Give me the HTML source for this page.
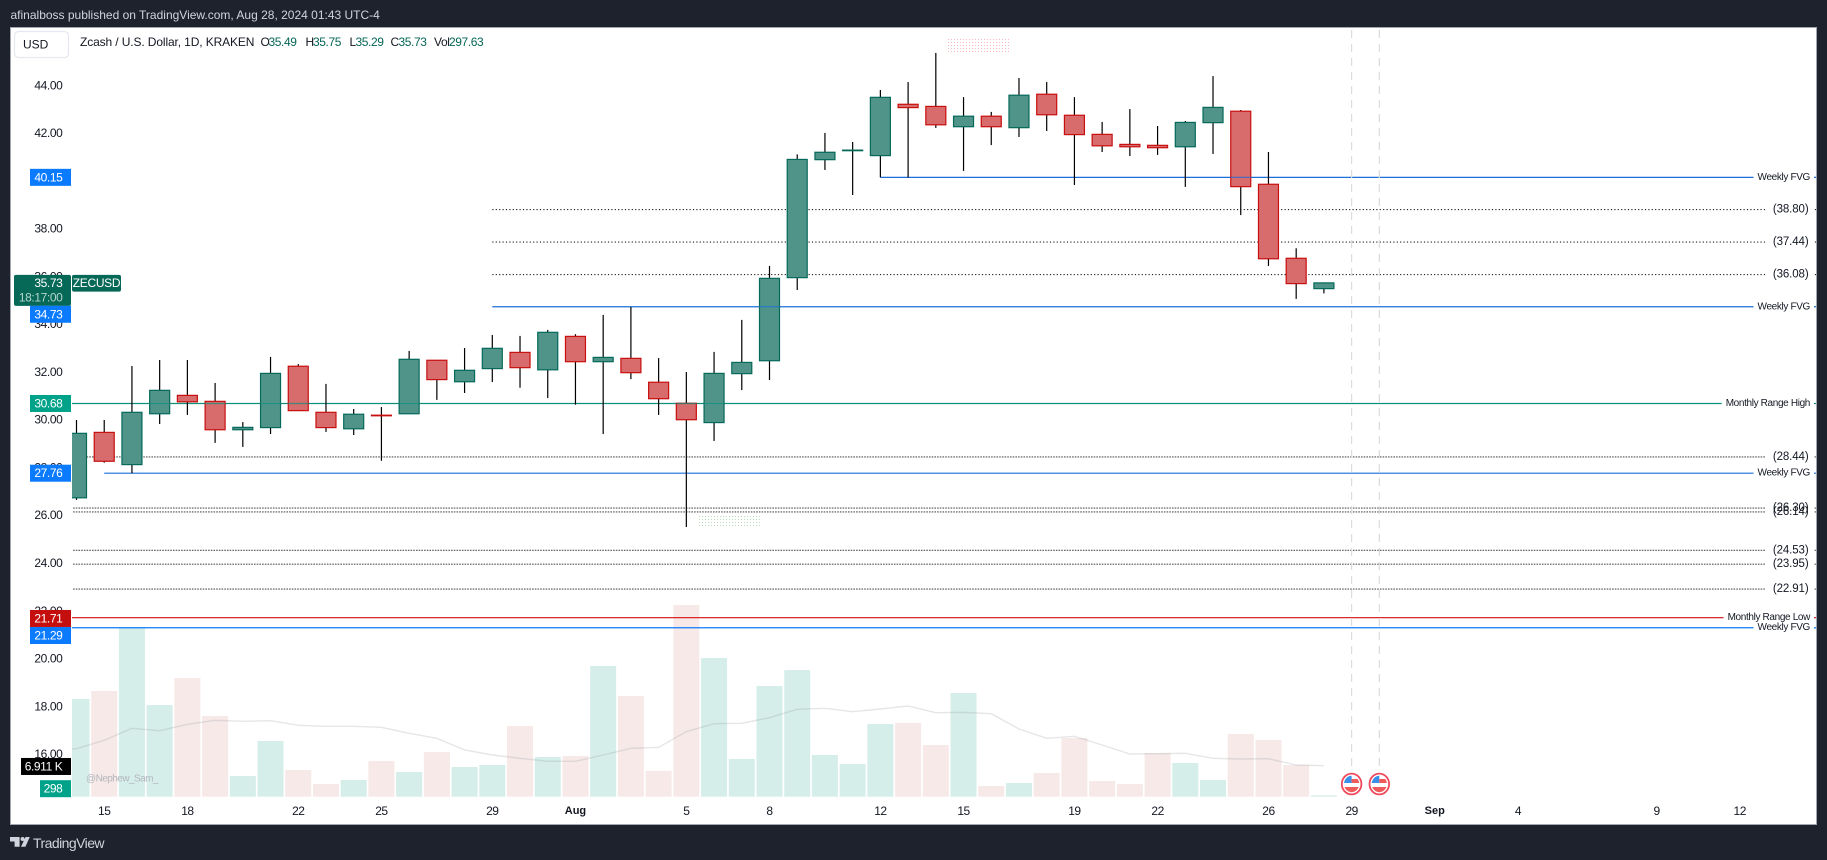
<!DOCTYPE html>
<html lang="en">
<head>
<meta charset="utf-8">
<title>Zcash / U.S. Dollar chart</title>
<style>
html,body{margin:0;padding:0;background:#1e222d;width:1827px;height:860px;overflow:hidden}
svg{display:block;font-family:"Liberation Sans",sans-serif}
text{white-space:pre}
</style>
</head>
<body>
<svg id="chart" xmlns="http://www.w3.org/2000/svg" width="1827" height="860" viewBox="0 0 1827 860">
  <defs>
    <clipPath id="plot-clip"><rect x="72" y="28" width="1744" height="796"/></clipPath>
    <clipPath id="flag-clip-a"><ellipse cx="1351.6" cy="784" rx="7.6" ry="8.2"/></clipPath>
    <clipPath id="flag-clip-b"><ellipse cx="1379.3" cy="784" rx="7.6" ry="8.2"/></clipPath>
    <pattern id="dots-pink" width="3" height="3" patternUnits="userSpaceOnUse"><rect width="1" height="1" fill="#ffb9c0"/></pattern>
    <pattern id="dots-green" width="3" height="3" patternUnits="userSpaceOnUse"><rect width="1" height="1" fill="#b5dcbc"/></pattern>
  </defs>
  <rect x="0" y="0" width="1827" height="860" fill="#1e222d"/>
  <text x="10.5" y="15" dominant-baseline="central" font-size="12" fill="#d1d4dc">afinalboss published on TradingView.com, Aug 28, 2024 01:43 UTC-4</text>
  <rect x="10.5" y="27.5" width="1806" height="797" fill="#ffffff" stroke="#a3a6af" stroke-width="1"/>
  <g id="volume-layer" clip-path="url(#plot-clip)"></g>
  <g id="level-layer" clip-path="url(#plot-clip)"></g>
  <g id="event-layer"></g>
  <g id="candle-layer" clip-path="url(#plot-clip)"></g>
  <rect x="947.5" y="39" width="62" height="15" fill="url(#dots-pink)"/>
  <rect x="699" y="516" width="61" height="11" fill="url(#dots-green)"/>
  <g id="axis-layer"></g>
  <g id="time-layer"></g>
  <g id="tag-layer"></g>

  <g>
    <rect x="14.5" y="31.5" width="54" height="26" rx="4" fill="#fff" stroke="#e6e8ee" stroke-width="1.2"/>
    <text x="23" y="44.5" dominant-baseline="central" font-size="12" fill="#131722">USD</text>
  </g>
  <g font-size="12" fill="#131722">
    <text x="80" y="42" dominant-baseline="central" letter-spacing="-.12">Zcash / U.S. Dollar, 1D, KRAKEN</text>
    <text x="260.5" y="42" dominant-baseline="central">O</text>
    <text x="268.5" y="42" dominant-baseline="central" fill="#056656" letter-spacing="-.4">35.49</text>
    <text x="305.5" y="42" dominant-baseline="central">H</text>
    <text x="313" y="42" dominant-baseline="central" fill="#056656" letter-spacing="-.4">35.75</text>
    <text x="349.5" y="42" dominant-baseline="central">L</text>
    <text x="355.5" y="42" dominant-baseline="central" fill="#056656" letter-spacing="-.4">35.29</text>
    <text x="390.5" y="42" dominant-baseline="central">C</text>
    <text x="398.5" y="42" dominant-baseline="central" fill="#056656" letter-spacing="-.4">35.73</text>
    <text x="434" y="42" dominant-baseline="central" letter-spacing="-.4">Vol</text>
    <text x="449" y="42" dominant-baseline="central" fill="#056656" letter-spacing="-.4">297.63</text>
  </g>
  <text x="86" y="779" dominant-baseline="central" font-size="10" fill="#b3b6bd" letter-spacing="-.55">@Nephew_Sam_</text>

  <g>
    <path d="M10 837h9.6v9.7h-5v-5.2H10z" fill="#d1d4dc"/>
    <circle cx="22.6" cy="839" r="2" fill="#d1d4dc"/>
    <path d="M25.6 837h4.2l-4.4 9.7h-4.4z" fill="#d1d4dc"/>
    <text x="33" y="843" dominant-baseline="central" font-size="14" fill="#d1d4dc" letter-spacing="-.55">TradingView</text>
  </g>
</svg>
<script>
// Candle data, one entry per daily bar starting Jul 14
var opens = [26.73,29.47,28.12,30.25,31.02,30.77,29.58,29.67,32.24,30.31,29.62,30.19,30.25,32.49,31.59,32.14,32.82,32.09,33.49,32.43,32.57,31.57,30.69,29.88,31.93,32.47,35.95,40.89,41.27,41.06,43.21,43.12,42.27,42.71,42.23,43.63,42.75,41.95,41.53,41.49,41.43,42.44,42.92,39.86,36.76,35.49];
var highs = [29.99,29.99,32.25,32.50,32.50,31.54,29.90,32.63,32.33,31.50,30.45,30.53,32.88,32.49,33.00,33.55,33.51,33.76,33.58,34.39,34.72,32.58,32.00,32.84,34.18,36.44,41.11,42.01,41.63,43.81,44.14,45.36,43.51,42.89,44.31,44.14,43.51,42.47,43.01,42.30,42.51,44.39,42.97,41.21,37.18,35.75];
var lows = [26.64,28.20,27.76,29.82,30.20,29.03,28.86,29.40,30.38,29.49,29.36,28.28,30.25,30.83,31.12,31.58,31.34,30.91,30.63,29.40,31.70,30.20,25.51,29.11,31.24,31.66,35.43,40.46,39.41,40.15,40.15,42.22,40.42,41.50,41.84,42.09,39.83,41.21,41.04,41.09,39.75,41.13,38.57,36.44,35.06,35.29];
var closes = [29.43,28.26,30.31,31.23,30.75,29.58,29.68,31.94,30.38,29.67,30.23,30.17,32.53,31.68,32.07,32.99,32.18,33.66,32.43,32.61,31.97,30.88,30.00,31.94,32.40,35.92,40.90,41.20,41.29,43.50,43.07,42.35,42.71,42.27,43.59,42.77,41.94,41.47,41.43,41.39,42.45,43.08,39.76,36.74,35.70,35.73];
// Volumes in thousands, and the volume moving average in thousands
var volumes = [21.76,23.54,37.79,20.42,26.43,17.97,4.61,12.40,5.95,2.83,3.72,7.95,5.50,9.95,6.61,7.06,15.74,8.84,9.06,29.11,22.43,5.72,42.69,30.89,8.40,24.65,28.22,9.29,7.28,16.19,16.41,11.51,23.09,2.38,3.05,5.28,13.07,3.50,2.83,9.73,7.51,3.72,13.96,12.63,7.06,0.298];
var volumeMA = [10.69,12.56,15.23,14.70,16.12,17.01,16.79,16.93,15.90,15.68,15.68,15.46,14.12,13.01,10.40,9.29,8.55,7.88,7.88,9.29,10.78,11.00,14.48,16.26,16.35,17.59,19.46,19.69,18.93,19.53,20.20,18.71,18.80,18.48,15.08,13.01,13.45,11.51,9.51,9.58,9.67,8.55,8.40,8.46,7.06,6.911];
// Moving average of the bar just left of the visible range
var volumeMABefore = 10.1;
// Price axis tick labels
var priceTicks = ["44.00","42.00","38.00","36.00","34.00","32.00","30.00","28.00","26.00","24.00","22.00","20.00","18.00","16.00"];
// Time axis labels and the bar index each belongs to
var timeLabels = ["15","18","22","25","29","Aug","5","8","12","15","19","22","26","29","Sep","4","9","12"];
var timeBars = [1,4,8,11,15,18,22,25,29,32,36,39,43,46,49,52,57,60];
// Drawn levels
var solidPrices = [40.15,34.73,30.68,27.76,21.71,21.29];
var solidLabels = ["Weekly FVG","Weekly FVG","Monthly Range High","Weekly FVG","Monthly Range Low","Weekly FVG"];
var solidStartBars = [29,15,-1,1,-1,-1];
var dottedPrices = [38.80,37.44,36.08,28.44,26.30,26.14,24.53,23.95,22.91];
var dottedStartBars = [15,15,15,-1,-1,-1,-1,-1,-1];
// Economic event bars
var eventBars = [46,47];
var lastClockLabel = "18:17:00";

var SVGNS = "http://www.w3.org/2000/svg";
function xAxis(bar){ return 76.5 + bar * 27.72; }
function yAxis(price){ return 85.4 + (44 - price) * 23.88; }
function volAxis(v){ return 796.7 - v * 4.49; }
function solidColor(i){ return i === 2 ? "#0f8f7c" : i === 4 ? "#d30f0f" : i === 5 ? "#0a7bff" : "#1a6fd8"; }
function make(tag, parent, attrs){
  var el = document.createElementNS(SVGNS, tag);
  for (var k in attrs) el.setAttribute(k, attrs[k]);
  parent.appendChild(el);
  return el;
}
var volumeLayer = document.getElementById("volume-layer");
var levelLayer = document.getElementById("level-layer");
var eventLayer = document.getElementById("event-layer");
var candleLayer = document.getElementById("candle-layer");
var axisLayer = document.getElementById("axis-layer");
var timeLayer = document.getElementById("time-layer");
var tagLayer = document.getElementById("tag-layer");
var UP_LINE = "#05695a", DOWN_LINE = "#c80f0f";

// Volume bars
volumes.forEach(function(v, i){
  var up = closes[i] >= opens[i];
  var top = volAxis(v);
  var bar = make("rect", volumeLayer, {x: xAxis(i) - 13, y: top, width: 26, height: 796.7 - top, fill: up ? "#d5eee9" : "#f7e9e8"});
  
  
});
var maPoints = xAxis(-1).toFixed(1) + "," + volAxis(volumeMABefore).toFixed(1) + " " + volumeMA.map(function(v, i){ return xAxis(i).toFixed(1) + "," + volAxis(v).toFixed(1); }).join(" ");
var maLine = make("polyline", volumeLayer, {points: maPoints, fill: "none", stroke: "#8a8d94", "stroke-opacity": ".22", "stroke-width": "1.4"});



// Dotted levels
dottedPrices.forEach(function(p, i){
  var y = yAxis(p);
  var upper = i < 3;
  var line = make("line", levelLayer, {x1: xAxis(dottedStartBars[i]), x2: 1816, y1: y, y2: y, stroke: upper ? "#222" : "#555", "stroke-width": "1.1", "stroke-dasharray": upper ? "1.2 2.2" : "1.6 1.1"});
  
  
  var bg = make("rect", levelLayer, {x: 1765, y: y - 7, width: 48.5, height: 14, fill: "#fff"});
  
  
});
// Solid levels
solidPrices.forEach(function(p, i){
  var y = yAxis(p);
  var line = make("line", levelLayer, {x1: xAxis(solidStartBars[i]), x2: 1816, y1: y, y2: y, stroke: solidColor(i), "stroke-width": "1.2"});
  
  
});
dottedPrices.forEach(function(p){
  var label = make("text", levelLayer, {x: 1808.6, y: yAxis(p), "text-anchor": "end", "dominant-baseline": "central", "font-size": "11.5", fill: "#131722", "letter-spacing": "-.1"});
  
  
  label.textContent = "(" + p.toFixed(2) + ")";
});
solidPrices.forEach(function(p, i){
  var y = yAxis(p);
  var label = make("text", levelLayer, {x: 1810, y: y, "text-anchor": "end", "dominant-baseline": "central", "font-size": "10", fill: "#131722", "letter-spacing": "-.35"});
  
  
  label.textContent = solidLabels[i];
  var w = label.getComputedTextLength();
  var bg = make("rect", levelLayer, {x: 1810 - w - 4, y: y - 1, width: w + 8, height: 2, fill: "#fff"});
  
  
  levelLayer.insertBefore(bg, label);
});

// Event markers
eventBars.forEach(function(bar, i){
  var x = xAxis(bar);
  var guide = make("line", eventLayer, {x1: x, x2: x, y1: 30, y2: 769, stroke: "#dcdcdc", "stroke-width": "1.2", "stroke-dasharray": "8 6"});
  
  
  var g = make("g", eventLayer, {});
  
  
  var cx = i === 0 ? 1351.6 : 1379.3;
  make("ellipse", g, {cx: cx, cy: 784, rx: 9.8, ry: 10.4, fill: "#fff", stroke: "#f0475a", "stroke-width": "1.8"});
  var clip = make("g", g, {"clip-path": "url(#flag-clip-" + (i === 0 ? "a" : "b") + ")"});
  make("rect", clip, {x: cx - 10, y: 774, width: 20, height: 20, fill: "#fff"});
  make("rect", clip, {x: cx - 10, y: 774, width: 10, height: 9, fill: "#3a8fe8"});
  make("rect", clip, {x: cx, y: 779, width: 10, height: 4, fill: "#ef5a5a"});
  make("rect", clip, {x: cx - 10, y: 787, width: 20, height: 7, fill: "#ef5a5a"});
});

// Candles
opens.forEach(function(o, i){
  var c = closes[i], up = c >= o;
  var g = make("g", candleLayer, {});
  
  
  var x = xAxis(i);
  var wick = make("line", g, {x1: x, x2: x, y1: yAxis(highs[i]), y2: yAxis(lows[i]), stroke: "#000", "stroke-width": "1.2"});
  
  
  var top = yAxis(Math.max(o, c)), bottom = yAxis(Math.min(o, c));
  var body = make("rect", g, {x: x - 10, y: top, width: 20, height: Math.max(bottom - top, .6), fill: up ? "#509489" : "#d86b6b", stroke: up ? UP_LINE : DOWN_LINE, "stroke-width": "1.2"});
  
  
});
// Solid level lines stay visible through the candle bodies
solidPrices.forEach(function(p, i){
  var y = yAxis(p);
  opens.forEach(function(o, j){
    var c = closes[j];
    var t = yAxis(Math.max(o, c)), b = yAxis(Math.min(o, c));
    if (y > t && y < b && xAxis(solidStartBars[i]) < xAxis(j)) {
      var seg = make("line", candleLayer, {x1: xAxis(j) - 10, x2: xAxis(j) + 10, y1: y, y2: y, stroke: solidColor(i), "stroke-width": "1.2", "stroke-opacity": ".75"});
      
      
    }
  });
});

// Price axis ticks
priceTicks.forEach(function(t){
  var tick = make("text", axisLayer, {x: 62.4, y: yAxis(parseFloat(t)), "text-anchor": "end", "dominant-baseline": "central", "font-size": "12", fill: "#131722", "letter-spacing": "-.4"});
  
  
  tick.textContent = t;
});
// Time axis ticks
timeLabels.forEach(function(t, i){
  var bold = t === "Aug" || t === "Sep";
  var tick = make("text", timeLayer, {x: xAxis(timeBars[i]), y: 811, "text-anchor": "middle", "dominant-baseline": "central", "font-size": bold ? "11" : "12", "font-weight": bold ? "700" : "400", fill: "#131722", "letter-spacing": bold ? "0" : "-.5"});
  
  
  tick.textContent = t;
});

// Axis tags
function addTag(text, centerY, left, color){
  var g = make("g", tagLayer, {});
  
  
  make("rect", g, {x: left, y: centerY - 8.5, width: 71 - left, height: 17, fill: color});
  var label = make("text", g, {x: 62.4, y: centerY, "text-anchor": "end", "dominant-baseline": "central", "font-size": "12", fill: "#fff", "letter-spacing": "-.4"});
  label.textContent = text;
}
var lastClose = closes[closes.length - 1];
var lastY = yAxis(lastClose);
var lastGroup = make("g", tagLayer, {});


make("rect", lastGroup, {x: 14, y: lastY - 8, width: 57, height: 31, rx: 2, fill: "#066856"});
var lastText = make("text", lastGroup, {x: 62.4, y: lastY, "text-anchor": "end", "dominant-baseline": "central", "font-size": "12", fill: "#fff", "letter-spacing": "-.4"});
lastText.textContent = lastClose.toFixed(2);
var clockText = make("text", lastGroup, {x: 62.4, y: lastY + 14.5, "text-anchor": "end", "dominant-baseline": "central", "font-size": "12", fill: "#b5d4cd", "letter-spacing": "-.4"});
clockText.textContent = lastClockLabel;
make("rect", lastGroup, {x: 72, y: lastY - 8, width: 49, height: 16.7, rx: 2, fill: "#066856"});
var symbolText = make("text", lastGroup, {x: 96.5, y: lastY, "text-anchor": "middle", "dominant-baseline": "central", "font-size": "12", fill: "#fff", "letter-spacing": "-.3"});
symbolText.textContent = "ZECUSD";

addTag(solidPrices[0].toFixed(2), yAxis(solidPrices[0]), 30, "#0a7bff");
addTag(solidPrices[1].toFixed(2), yAxis(solidPrices[1]) + 7.5, 30, "#0a7bff");
addTag(solidPrices[2].toFixed(2), yAxis(solidPrices[2]), 30, "#00a28a");
addTag(solidPrices[3].toFixed(2), yAxis(solidPrices[3]), 30, "#0a7bff");
addTag(solidPrices[4].toFixed(2), yAxis(solidPrices[4]) + 0.8, 30, "#c50f0f");
addTag(solidPrices[5].toFixed(2), yAxis(solidPrices[5]) + 7.8, 30, "#0a7bff");
addTag(volumeMA[volumeMA.length - 1].toFixed(3) + " K", volAxis(volumeMA[volumeMA.length - 1]) + 0.8, 21, "#000000");
addTag(Math.round(volumes[volumes.length - 1] * 1000).toString(), Math.min(volAxis(volumes[volumes.length - 1]), 788.7), 40, "#00a28a");
</script>
</body>
</html>
